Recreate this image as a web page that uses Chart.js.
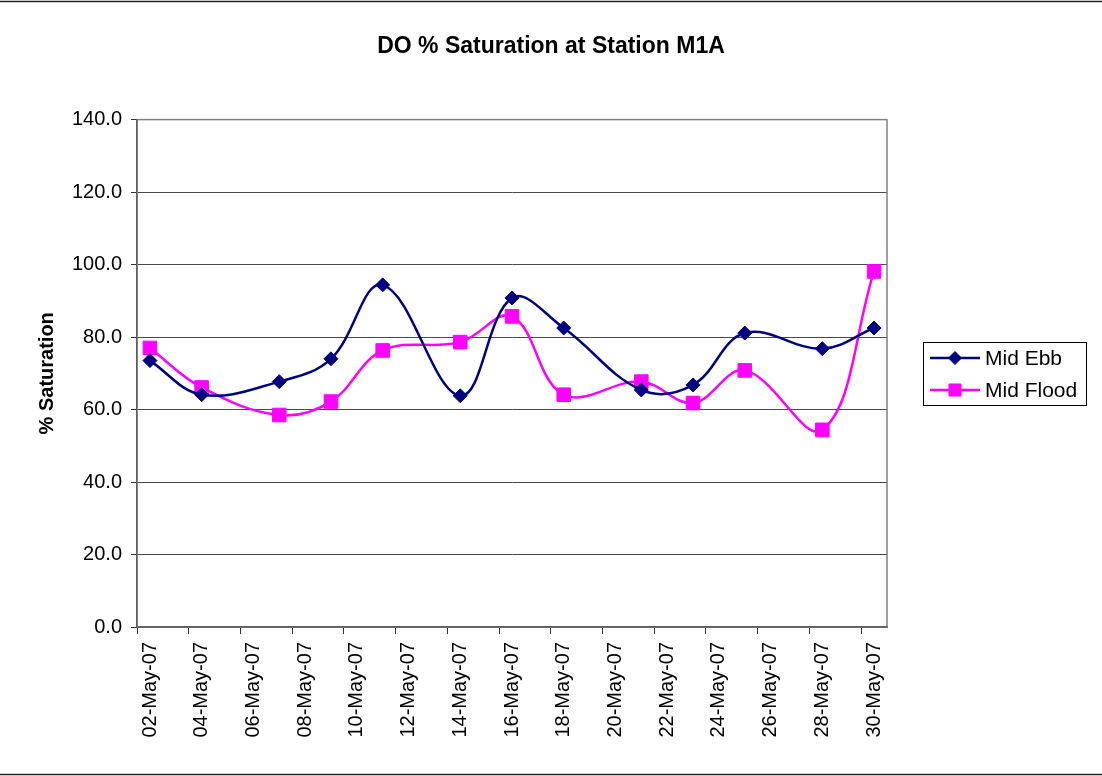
<!DOCTYPE html>
<html>
<head>
<meta charset="utf-8">
<title>DO % Saturation at Station M1A</title>
<script src="https://cdn.jsdelivr.net/npm/chart.js@4.4.0/dist/chart.umd.min.js"></script>
<style>
    html, body { margin: 0; padding: 0; background: #fff; }
    #chartBox { width: 1102px; height: 776px; }
</style>
</head>
<body>
<div id="chartBox">
    <canvas id="doChart" width="1102" height="776"></canvas>
</div>
<script>
// Sampling dates (May 2007) and % saturation readings
const sampleDates = ["02-May-07", "04-May-07", "07-May-07", "09-May-07", "11-May-07", "14-May-07", "16-May-07",
                     "18-May-07", "21-May-07", "23-May-07", "25-May-07", "28-May-07", "30-May-07"];
const midEbb   = [73.5, 64.1, 67.7, 74.0, 94.4, 63.8, 90.8, 82.5, 65.4, 66.8, 81.1, 76.8, 82.5];
const midFlood = [77.0, 66.1, 58.5, 62.2, 76.3, 78.6, 85.7, 64.1, 67.7, 61.8, 70.8, 54.4, 98.1];

// Axis: one band per day, labelled every second day
const firstDay = 2;
const lastDay = 30;
const labelDays = [2, 4, 6, 8, 10, 12, 14, 16, 18, 20, 22, 24, 26, 28, 30];
const yTicks = [0, 20, 40, 60, 80, 100, 120, 140];

const seriesNames = ["Mid Ebb", "Mid Flood"];
const ebbColor = "#000080";
const floodColor = "#ff00ff";
const fontFamily = "'Liberation Sans', Arial, Helvetica, sans-serif";

function dayOf(dateStr) {
    return parseInt(dateStr.slice(0, 2), 10);
}

function dayLabel(day) {
    return String(day).padStart(2, "0") + "-May-07";
}

const toPoints = values => values.map((v, i) => ({ x: dayOf(sampleDates[i]), y: v }));

// Frame lines, plot border and the boxed legend on the right
const chartDecor = {
    id: "chartDecor",
    beforeDatasetsDraw(chart) {
        const { ctx, chartArea } = chart;
        ctx.save();
        ctx.strokeStyle = "#808080";
        ctx.lineWidth = 1.5;
        ctx.strokeRect(chartArea.left, chartArea.top, chartArea.right - chartArea.left, chartArea.bottom - chartArea.top);
        ctx.restore();
    },
    afterDraw(chart) {
        const ctx = chart.ctx;
        ctx.save();

        // outer frame (top and bottom rules)
        ctx.strokeStyle = "#222";
        ctx.lineWidth = 1.5;
        ctx.beginPath();
        ctx.moveTo(0, 1.5);
        ctx.lineTo(chart.width, 1.5);
        ctx.moveTo(0, 774.5);
        ctx.lineTo(chart.width, 774.5);
        ctx.stroke();

        // legend
        const box = { x: 923.5, y: 342.5, w: 163, h: 63 };
        ctx.strokeStyle = "#000";
        ctx.lineWidth = 1;
        ctx.strokeRect(box.x, box.y, box.w, box.h);

        const rows = [
            { name: seriesNames[0], color: ebbColor, style: "rectRot", radius: 6.5, y: 358 },
            { name: seriesNames[1], color: floodColor, style: "rect", radius: 8.5, y: 390 }
        ];
        rows.forEach(row => {
            ctx.strokeStyle = row.color;
            ctx.lineWidth = 2.5;
            ctx.beginPath();
            ctx.moveTo(930, row.y);
            ctx.lineTo(980, row.y);
            ctx.stroke();

            ctx.fillStyle = row.color;
            ctx.strokeStyle = row.color;
            ctx.lineWidth = 1;
            Chart.helpers.drawPoint(ctx, { pointStyle: row.style, radius: row.radius, borderWidth: 1, rotation: 0 }, 955, row.y);

            ctx.fillStyle = "#000";
            ctx.font = "21px " + fontFamily;
            ctx.textAlign = "left";
            ctx.textBaseline = "middle";
            ctx.fillText(row.name, 985, row.y + 1);
        });

        ctx.restore();
    }
};

const ctx = document.getElementById("doChart").getContext("2d");

new Chart(ctx, {
    type: "line",
    data: {
        datasets: [
            {
                label: seriesNames[0],
                data: toPoints(midEbb),
                borderColor: ebbColor,
                backgroundColor: ebbColor,
                borderWidth: 2.5,
                pointStyle: "rectRot",
                pointRadius: 7,
                pointBorderWidth: 1,
                tension: 0.38,
                fill: false
            },
            {
                label: seriesNames[1],
                data: toPoints(midFlood),
                borderColor: floodColor,
                backgroundColor: floodColor,
                borderWidth: 2.5,
                pointStyle: "rect",
                pointRadius: 9.6,
                pointBorderWidth: 1,
                tension: 0.38,
                fill: false
            }
        ]
    },
    options: {
        responsive: false,
        animation: false,
        devicePixelRatio: 1,
        layout: {
            padding: 0
        },
        scales: {
            x: {
                type: "linear",
                min: firstDay - 0.5,
                max: lastDay + 0.5,
                afterBuildTicks: scale => {
                    // tick marks sit on the left edge of each labelled day
                    scale.ticks = labelDays.map(d => ({ value: d - 0.5 }));
                },
                afterFit: scale => {
                    scale.height = 149;
                },
                ticks: {
                    autoSkip: false,
                    minRotation: 90,
                    maxRotation: 90,
                    labelOffset: 13,
                    padding: 8,
                    color: "#000",
                    font: { family: fontFamily, size: 20 },
                    callback: value => dayLabel(value + 0.5)
                },
                grid: {
                    drawOnChartArea: false,
                    drawTicks: true,
                    tickLength: 7,
                    tickColor: "#333",
                    tickWidth: 1
                },
                border: { color: "#000", width: 1.5 }
            },
            y: {
                min: 0,
                max: 140,
                afterBuildTicks: scale => {
                    scale.ticks = yTicks.map(v => ({ value: v }));
                },
                afterFit: scale => {
                    scale.width = 137;
                },
                ticks: {
                    padding: 9,
                    color: "#000",
                    font: { family: fontFamily, size: 20 },
                    callback: value => value.toFixed(1)
                },
                grid: {
                    color: "#4a4a4a",
                    lineWidth: 1,
                    tickLength: 6,
                    tickColor: "#333"
                },
                border: { color: "#000", width: 1.5 },
                title: {
                    display: true,
                    text: "% Saturation",
                    color: "#000",
                    font: { family: fontFamily, size: 20, weight: "bold" },
                    padding: { top: 35, bottom: 0 }
                }
            },
            // empty right-hand axis that reserves the room the legend sits in
            legendRoom: {
                type: "linear",
                position: "right",
                display: true,
                min: 0,
                max: 140,
                afterFit: scale => {
                    scale.width = 215;
                },
                ticks: { display: false },
                grid: { display: false, drawTicks: false },
                border: { display: false }
            }
        },
        plugins: {
            legend: { display: false },
            tooltip: { enabled: false },
            title: {
                display: true,
                text: "DO % Saturation at Station M1A",
                color: "#000",
                font: { family: fontFamily, size: 23, weight: "bold" },
                padding: { top: 33, bottom: 59 }
            }
        }
    },
    plugins: [chartDecor]
});
</script>
</body>
</html>
